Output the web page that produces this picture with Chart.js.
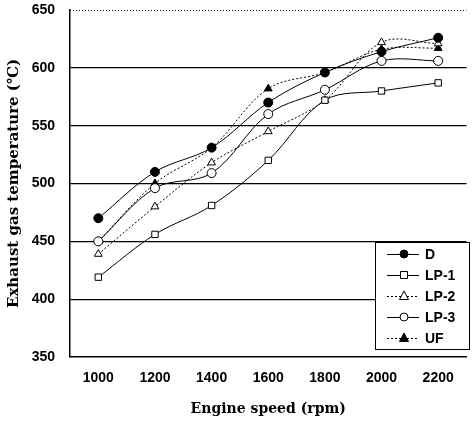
<!DOCTYPE html>
<html>
<head>
<meta charset="utf-8">
<script src="https://cdn.jsdelivr.net/npm/chart.js@4.4.0/dist/chart.umd.min.js"></script>
<style>
  html, body { margin: 0; padding: 0; background: #fff; }
  #wrap { width: 472px; height: 422px; position: relative; }
</style>
</head>
<body>
<div id="wrap"><canvas id="chart"></canvas></div>
<script>
// Engine speed categories (rpm)
const SPEEDS = ['1000', '1200', '1400', '1600', '1800', '2000', '2200'];

// Exhaust gas temperature per fuel (deg C)
const D_VALUES   = [470, 510, 531, 570, 596, 614, 626];
const LP1_VALUES = [419, 456, 481, 520, 572, 580, 587];
const LP2_VALUES = [439, 480, 518, 545, 572, 622, 621];
const LP3_VALUES = [450, 496, 509, 560, 581, 606, 606];
const UF_VALUES  = [450, 500, 531, 582, 596, 616, 617];

const Y_TICKS = [350, 400, 450, 500, 550, 600, 650];

const INK = '#000';
const NONE = 'rgba(0,0,0,0)';
const TICK_FONT = '"Liberation Sans", Arial, sans-serif';
const TITLE_FONT = '"DejaVu Serif", "Liberation Serif", serif';

function series(label, data, style, fill, dash) {
    return {
        label: label,
        data: data,
        borderColor: INK,
        borderWidth: 1,
        borderDash: dash,
        pointStyle: style,
        pointRadius: 4.5,
        pointBackgroundColor: fill,
        pointBorderColor: INK,
        pointBorderWidth: 1,
        tension: 0.35,
        fill: false,
    };
}

// draws one legend marker
function marker(ctx, style, fill, x, y) {
    ctx.save();
    ctx.fillStyle = fill;
    ctx.strokeStyle = INK;
    ctx.lineWidth = 1;
    ctx.setLineDash([]);
    ctx.beginPath();
    if (style === 'circle') {
        ctx.arc(x, y, 4, 0, Math.PI * 2);
    } else if (style === 'rect') {
        ctx.rect(x - 3.5, y - 3.5, 7, 7);
    } else {
        ctx.moveTo(x, y - 5);
        ctx.lineTo(x + 4.5, y + 3.5);
        ctx.lineTo(x - 4.5, y + 3.5);
        ctx.closePath();
    }
    ctx.fill();
    ctx.stroke();
    ctx.restore();
}

const framePlugin = {
    id: 'frame',
    afterDraw(chart) {
        const ctx = chart.ctx;
        const area = chart.chartArea;
        // dotted top edge
        ctx.save();
        ctx.strokeStyle = INK;
        ctx.lineWidth = 1;
        ctx.setLineDash([1, 2]);
        ctx.beginPath();
        ctx.moveTo(area.left, area.top + 0.5);
        ctx.lineTo(area.right, area.top + 0.5);
        ctx.stroke();
        ctx.restore();

        // legend box inside the plot
        const bx = 375, by = 242, bw = 94, bh = 107;
        ctx.save();
        ctx.fillStyle = '#fff';
        ctx.fillRect(bx, by, bw, bh);
        ctx.strokeStyle = INK;
        ctx.lineWidth = 1;
        ctx.strokeRect(bx + 0.5, by + 0.5, bw, bh);
        ctx.font = 'bold 14px ' + TICK_FONT;
        ctx.textBaseline = 'middle';
        chart.data.datasets.forEach((ds, i) => {
            const y = by + 12 + i * 21;
            ctx.save();
            ctx.strokeStyle = INK;
            ctx.setLineDash(ds.borderDash || []);
            ctx.beginPath();
            ctx.moveTo(bx + 12, y + 0.5);
            ctx.lineTo(bx + 44, y + 0.5);
            ctx.stroke();
            ctx.restore();
            marker(ctx, ds.pointStyle, ds.pointBackgroundColor, bx + 29, y);
            ctx.fillStyle = INK;
            ctx.fillText(ds.label, bx + 50, y + 1);
        });
        ctx.restore();
    }
};

new Chart(document.getElementById('chart'), {
    type: 'line',
    data: {
        labels: SPEEDS,
        datasets: [
            series('D', D_VALUES, 'circle', INK, []),
            series('LP-1', LP1_VALUES, 'rect', '#fff', []),
            series('LP-2', LP2_VALUES, 'triangle', '#fff', [2, 2]),
            series('LP-3', LP3_VALUES, 'circle', '#fff', []),
            series('UF', UF_VALUES, 'triangle', INK, [2, 2]),
        ]
    },
    options: {
        responsive: true,
        maintainAspectRatio: false,
        animation: false,
        layout: { padding: { top: 10, right: 0, left: 0, bottom: 0 } },
        plugins: {
            legend: { display: false },
            tooltip: { enabled: false },
        },
        scales: {
            x: {
                type: 'category',
                offset: true,
                grid: { display: false, drawTicks: false },
                border: { display: true, color: INK, width: 1.5 },
                ticks: {
                    color: INK,
                    padding: 13,
                    font: { family: TICK_FONT, size: 14, weight: 'bold' },
                },
                title: {
                    display: true,
                    text: 'Engine speed (rpm)',
                    color: INK,
                    padding: { top: 8, bottom: 4 },
                    font: { family: TITLE_FONT, size: 14, weight: 'bold' },
                },
                afterFit(scale) { scale.height = 65; },
            },
            y: {
                min: 350,
                max: 650,
                afterBuildTicks(scale) { scale.ticks = Y_TICKS.map(v => ({ value: v })); },
                grid: {
                    drawTicks: true,
                    tickLength: 15,
                    tickColor: NONE,
                    color: ctx => (ctx.tick && (ctx.tick.value === 650 || ctx.tick.value === 350)) ? NONE : INK,
                    lineWidth: 1.2,
                },
                border: { display: true, color: INK, width: 1.5 },
                ticks: {
                    color: INK,
                    padding: 0,
                    font: { family: TICK_FONT, size: 14, weight: 'bold' },
                },
                title: {
                    display: true,
                    text: 'Exhaust gas temperature (℃)',
                    color: INK,
                    padding: { top: 5, bottom: 0 },
                    font: { family: TITLE_FONT, size: 15, weight: 'bold' },
                },
                afterFit(scale) { scale.width = 70; },
            }
        }
    },
    plugins: [framePlugin]
});
</script>
</body>
</html>
